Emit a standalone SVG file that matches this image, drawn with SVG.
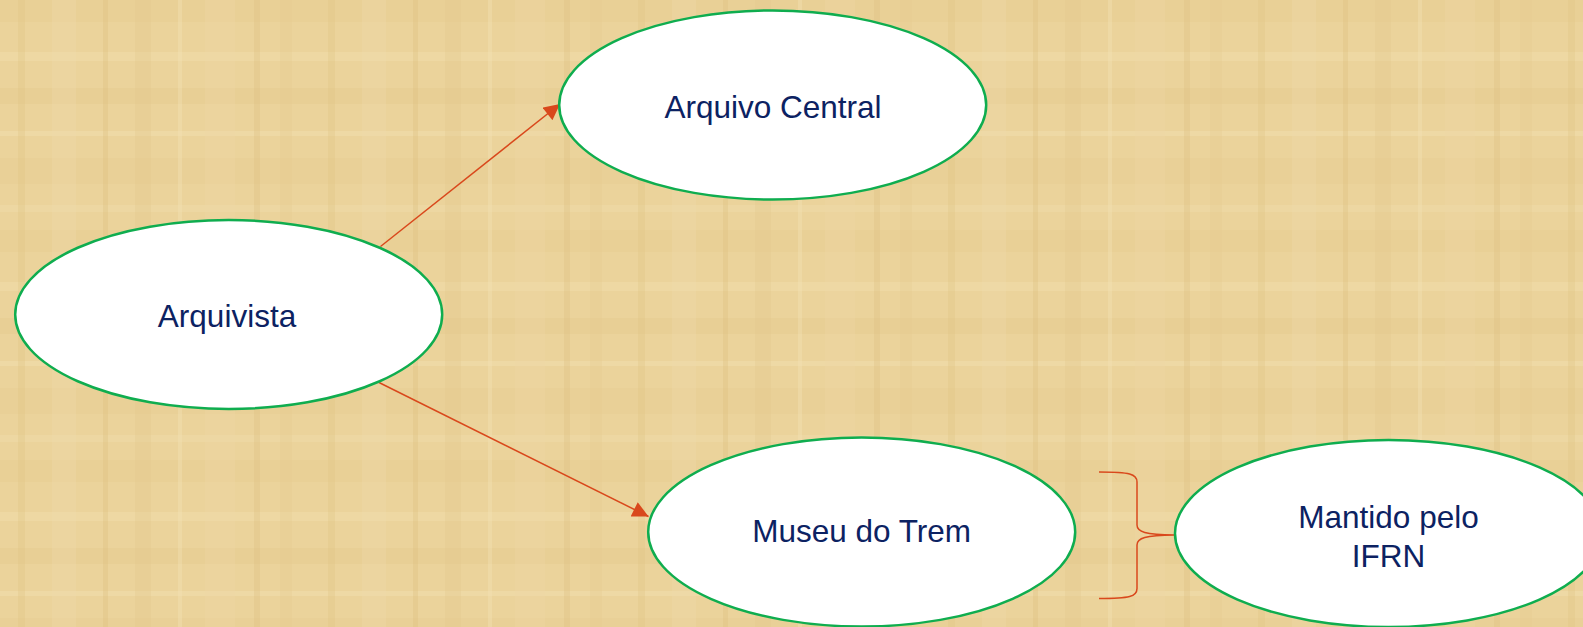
<svg xmlns="http://www.w3.org/2000/svg" width="1583" height="627" viewBox="0 0 1583 627">
  <defs>
    <style>
      .node { fill: #ffffff; stroke: #0fad4f; stroke-width: 2.5; }
      .label { font-family: "Liberation Sans", Arial, sans-serif; font-size: 31.5px; fill: #0c2262; text-anchor: middle; }
      .conn { stroke: #d9481c; stroke-width: 1.5; fill: none; }
    </style>
    <marker id="arrowBig" viewBox="0 0 10 10" refX="10" refY="5" markerWidth="17" markerHeight="16" markerUnits="userSpaceOnUse" orient="auto">
      <path d="M0,0 L10,5 L0,10 z" fill="#d9481c"/>
    </marker>
    <pattern id="papyrus" patternUnits="userSpaceOnUse" width="310" height="230">
      <rect width="310" height="230" fill="#ebd39b"/>
      <rect x="0" y="0" width="310" height="22" fill="#e4ca8d" opacity="0.35"/>
      <rect x="0" y="52" width="310" height="9" fill="#f2dfaf" opacity="0.4"/>
      <rect x="0" y="88" width="310" height="16" fill="#e2c788" opacity="0.3"/>
      <rect x="0" y="131" width="310" height="5" fill="#f3e2b5" opacity="0.4"/>
      <rect x="0" y="158" width="310" height="26" fill="#e5cb8f" opacity="0.3"/>
      <rect x="0" y="205" width="310" height="7" fill="#f1ddad" opacity="0.4"/>
      <rect x="18" y="0" width="7" height="230" fill="#dfc383" opacity="0.3"/>
      <rect x="52" y="0" width="24" height="230" fill="#f1ddac" opacity="0.3"/>
      <rect x="103" y="0" width="5" height="230" fill="#dbbe7c" opacity="0.3"/>
      <rect x="135" y="0" width="16" height="230" fill="#e4c98c" opacity="0.3"/>
      <rect x="178" y="0" width="4" height="230" fill="#f3e1b4" opacity="0.4"/>
      <rect x="205" y="0" width="30" height="230" fill="#efd9a6" opacity="0.3"/>
      <rect x="254" y="0" width="6" height="230" fill="#dcbf7e" opacity="0.3"/>
      <rect x="280" y="0" width="12" height="230" fill="#e6cc90" opacity="0.3"/>
    </pattern>
  </defs>

  <rect width="1583" height="627" fill="url(#papyrus)"/>

  <g id="connectors">
    <line class="conn" x1="380.5" y1="246.5" x2="560" y2="104" marker-end="url(#arrowBig)"/>
    <line class="conn" x1="379" y1="382.5" x2="648.5" y2="516.5" marker-end="url(#arrowBig)"/>
    <path id="brace" class="conn" d="M1099,472 C1130,472 1137,474 1137,482 L1137,525 C1137,532 1145,534.5 1175,535 M1099,598.5 C1130,598.5 1137,596.5 1137,588.5 L1137,545 C1137,538 1145,535.5 1175,535"/>
  </g>

  <g id="node-arquivista">
    <ellipse class="node" cx="228.7" cy="314.5" rx="213.5" ry="94.4"/>
    <text class="label" x="227" y="326.7">Arquivista</text>
  </g>

  <g id="node-arquivo-central">
    <ellipse class="node" cx="772.7" cy="105" rx="213.5" ry="94.5"/>
    <text class="label" x="773" y="118.3">Arquivo Central</text>
  </g>

  <g id="node-museu-do-trem">
    <ellipse class="node" cx="861.7" cy="532" rx="213.5" ry="94.5"/>
    <text class="label" x="861.7" y="542.3">Museu do Trem</text>
  </g>

  <g id="node-mantido">
    <ellipse class="node" cx="1388.5" cy="533.5" rx="213.5" ry="93.5"/>
    <text class="label" x="1388.5" y="528.3">Mantido pelo</text>
    <text class="label" x="1388.5" y="566.7">IFRN</text>
  </g>
</svg>
